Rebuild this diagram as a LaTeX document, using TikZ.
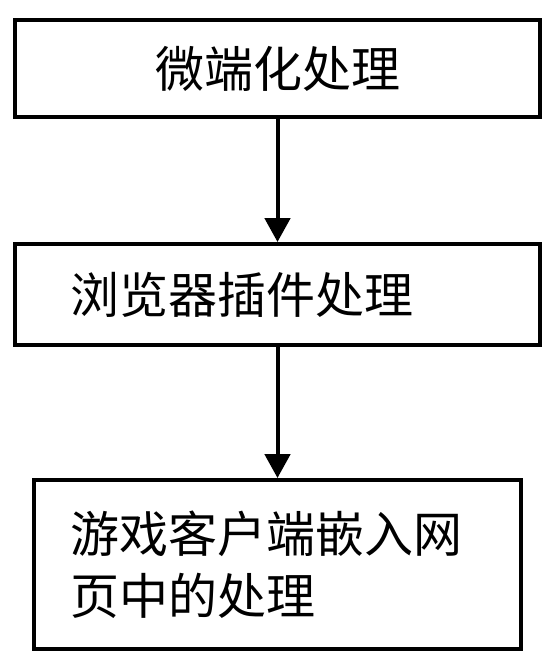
\documentclass[tikz,border=0pt]{standalone}
\usepackage{fontspec}
\newfontfamily\cjk{Noto Sans CJK SC}
\usetikzlibrary{arrows.meta}
\begin{document}
\begin{tikzpicture}[x=0.75pt, y=-0.75pt]
% Flow chart, coordinates given in pixels of the page
\providecommand{\flowLineWidth}{3pt}
\providecommand{\flowFont}{\cjk\fontsize{36.75pt}{46.5pt}\selectfont}
\tikzset{
  stepbox/.style={rectangle, draw=black, line width=\flowLineWidth, font=\flowFont},
  flowarrow/.style={line width=\flowLineWidth, -{Triangle[width=19pt, length=18pt]}}
}
\useasboundingbox (0,0) rectangle (555,663);
% Steps
\node[stepbox, minimum width=393.75pt, minimum height=72.75pt] (micro) at (277.5,68.5) {微端化处理};
\node[stepbox, minimum width=393.75pt, minimum height=75.75pt, text width=311.25pt, inner xsep=41.25pt, align=left] (plugin) at (277.5,294.5) {浏览器插件处理};
\node[stepbox, minimum width=365.25pt, minimum height=126.75pt, text width=311.25pt, inner xsep=27pt, align=left] (embed) at (277.5,564.5) {游戏客户端嵌入网\\页中的处理};
% Arrows between steps
\draw[flowarrow] (micro) -- (plugin);
\draw[flowarrow] (plugin) -- (embed);
\end{tikzpicture}
\end{document}
